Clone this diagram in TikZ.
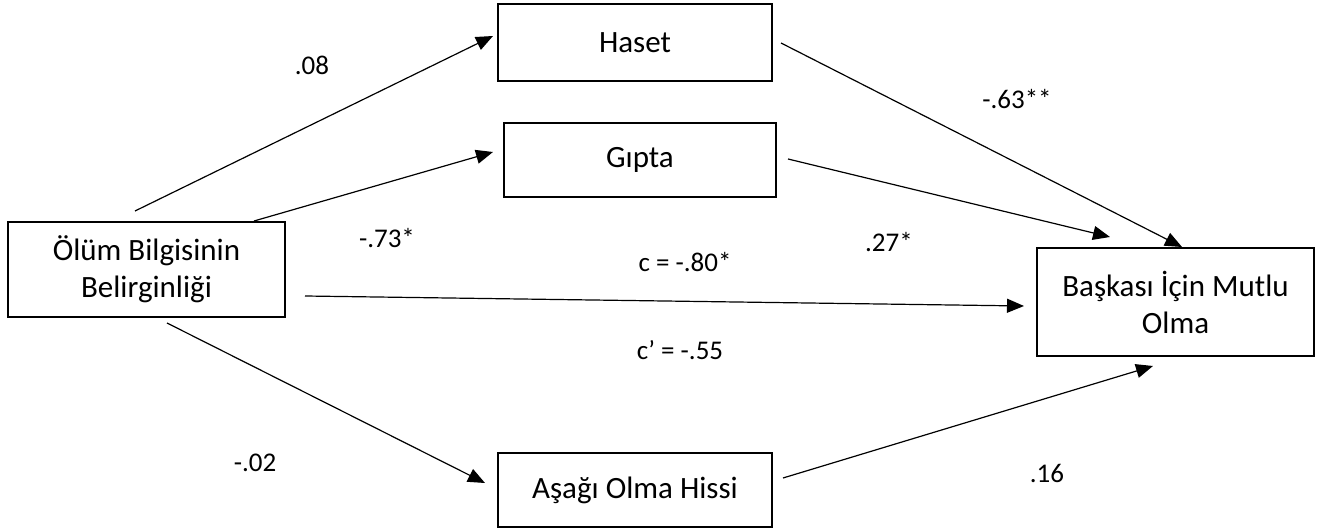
\documentclass[tikz,border=0pt]{standalone}
\usepackage{fontspec}
\setmainfont{Carlito}
\usetikzlibrary{arrows.meta}
\begin{document}
\begin{tikzpicture}[x=1pt,y=-1pt,
  box/.style={draw=black,line width=1.8pt,inner sep=0pt,align=center,
    font=\fontsize{31}{37}\selectfont},
  arr/.style={-{Triangle[length=17pt,width=14pt]},line width=1.2pt},
  lbl/.style={inner sep=0pt,font=\fontsize{27}{32}\selectfont}]
\useasboundingbox (0,0) rectangle (1326,529);
% boxes
\node[box,minimum width=277pt,minimum height=95pt] (ob) at (146.5,269.5) {Ölüm Bilgisinin\\Belirginliği};
\node[box,minimum width=274pt,minimum height=77pt] (haset) at (635,42.5) {Haset};
\node[box,minimum width=272pt,minimum height=74pt] (gipta) at (640,160) {Gıpta};
\node[box,minimum width=274pt,minimum height=74pt] (asagi) at (635,490) {Aşağı Olma Hissi};
\node[box,minimum width=277pt,minimum height=108pt] (bmo) at (1175.5,302) {Başkası İçin Mutlu\\Olma};
% connector ends
\coordinate (obH) at (135,211);   \coordinate (hIn) at (493,36);
\coordinate (obG) at (254,221);   \coordinate (gIn) at (493,152);
\coordinate (obC) at (305,296);   \coordinate (cIn) at (1024,306);
\coordinate (obA) at (167,323);   \coordinate (aIn) at (485,483);
\coordinate (hOut) at (781,43);   \coordinate (bH) at (1182,247);
\coordinate (gOut) at (788,159);  \coordinate (bG) at (1110,237);
\coordinate (aOut) at (783,478);  \coordinate (bA) at (1153,366);
% connectors
\draw[arr] (obH) -- (hIn);
\draw[arr] (obG) -- (gIn);
\draw[arr] (obC) -- (cIn);
\draw[arr] (obA) -- (aIn);
\draw[arr] (hOut) -- (bH);
\draw[arr] (gOut) -- (bG);
\draw[arr] (aOut) -- (bA);
% labels
\node[lbl] (l08) at (312,65) {.08};
\node[lbl] (l73) at (387,238) {-.73*};
\node[lbl] (lc) at (685,262) {c = -.80*};
\node[lbl] (lcp) at (680,350) {c’ = -.55};
\node[lbl] (l02) at (255,463) {-.02};
\node[lbl] (l63) at (1017,99) {-.63**};
\node[lbl] (l27) at (889,242) {.27*};
\node[lbl] (l16) at (1047,473) {.16};
\end{tikzpicture}
\end{document}
